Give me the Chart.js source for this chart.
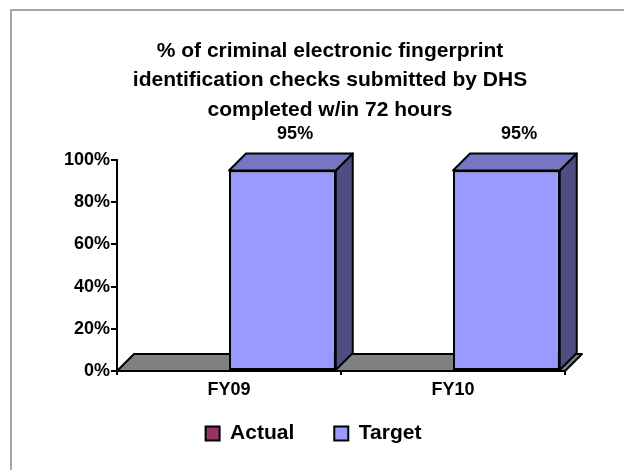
<!DOCTYPE html>
<html>
<head>
<meta charset="utf-8">
<script src="https://cdn.jsdelivr.net/npm/chart.js@4.4.1/dist/chart.umd.min.js"></script>
<style>
  html, body { margin: 0; padding: 0; background: #ffffff; }
  canvas { display: block; }
</style>
</head>
<body>
<canvas id="chart" width="624" height="470"></canvas>
<script>
// Chart data
const categories = ['FY09', 'FY10'];
const actualValues = [null, null];
const targetValues = [95, 95];
const yTickValues = [0, 20, 40, 60, 80, 100];
const titleLines = [
  '% of criminal electronic fingerprint',
  'identification checks submitted by DHS',
  'completed w/in 72 hours'
];

const FONT = '"Liberation Sans", Arial, Helvetica, sans-serif';
Chart.defaults.font.family = FONT;
Chart.defaults.color = '#000000';

// Depth of the pseudo-3D extrusion, in pixels
const DEPTH = 17;

// Grey frame along the top and left of the canvas
const framePlugin = {
  id: 'frame',
  beforeDraw(chart) {
    const ctx = chart.ctx;
    ctx.save();
    ctx.fillStyle = '#ffffff';
    ctx.fillRect(0, 0, chart.width, chart.height);
    ctx.fillStyle = '#a6a6a6';
    ctx.fillRect(10, 9, chart.width - 10, 2);
    ctx.fillRect(10, 9, 2, chart.height - 9);
    ctx.restore();
  }
};

function fillPoly(ctx, pts, fill) {
  ctx.beginPath();
  ctx.moveTo(pts[0][0], pts[0][1]);
  for (let k = 1; k < pts.length; k++) ctx.lineTo(pts[k][0], pts[k][1]);
  ctx.closePath();
  ctx.fillStyle = fill;
  ctx.fill();
  ctx.stroke();
}

// Grey floor under the columns
const floorPlugin = {
  id: 'floor',
  beforeDatasetsDraw(chart) {
    const { ctx, chartArea: a, scales: { y } } = chart;
    const b = y.getPixelForValue(0);
    ctx.save();
    ctx.lineWidth = 2;
    ctx.strokeStyle = '#000000';
    ctx.lineJoin = 'round';
    fillPoly(ctx, [[a.left, b], [a.right, b], [a.right + DEPTH, b - DEPTH], [a.left + DEPTH, b - DEPTH]], '#808080');
    ctx.restore();
  }
};

// Side and top faces of each column, plus the value label above it
const columns3dPlugin = {
  id: 'columns3d',
  afterDatasetsDraw(chart, args, opts) {
    const ctx = chart.ctx;
    chart.data.datasets.forEach((ds, i) => {
      const meta = chart.getDatasetMeta(i);
      if (meta.hidden) return;
      const shade = opts.shades[i];
      meta.data.forEach((bar, j) => {
        const v = ds.data[j];
        if (v === null || v === undefined || v === 0) return;
        const { x, y, base, width } = bar.getProps(['x', 'y', 'base', 'width'], true);
        const l = x - width / 2;
        const r = x + width / 2;
        const d = DEPTH;
        ctx.save();
        ctx.lineWidth = 2;
        ctx.strokeStyle = '#000000';
        ctx.lineJoin = 'round';
        fillPoly(ctx, [[r, y], [r + d, y - d], [r + d, base - d], [r, base]], shade.side);
        fillPoly(ctx, [[l, y], [l + d, y - d], [r + d, y - d], [r, y]], shade.top);
        ctx.fillStyle = '#000000';
        ctx.font = 'bold 18px ' + FONT;
        ctx.textAlign = 'center';
        ctx.textBaseline = 'middle';
        ctx.fillText(v + '%', x + d * 0.75, y - d - 19.5);
        ctx.restore();
      });
    });
  }
};

// Nudges the title and legend boxes after layout
const boxOffsetPlugin = {
  id: 'boxOffset',
  afterLayout(chart, args, opts) {
    const t = chart.titleBlock;
    if (t) { t.left += opts.titleDx; t.right += opts.titleDx; }
    const lg = chart.legend;
    if (lg) {
      lg.left += opts.legendDx; lg.right += opts.legendDx;
      lg.top += opts.legendDy; lg.bottom += opts.legendDy;
    }
  }
};

new Chart(document.getElementById('chart'), {
  type: 'bar',
  data: {
    labels: categories,
    datasets: [
      {
        label: 'Actual',
        data: actualValues,
        backgroundColor: '#993366',
        borderColor: '#000000',
        borderWidth: 2,
        borderSkipped: false
      },
      {
        label: 'Target',
        data: targetValues,
        backgroundColor: '#9999ff',
        borderColor: '#000000',
        borderWidth: 2,
        borderSkipped: false
      }
    ]
  },
  options: {
    responsive: false,
    animation: false,
    devicePixelRatio: 1,
    datasets: {
      bar: { categoryPercentage: 0.953, barPercentage: 1 }
    },
    layout: { padding: { left: 10, right: 59, top: 36, bottom: 0 } },
    plugins: {
      title: {
        display: true,
        text: titleLines,
        color: '#000000',
        font: { size: 21, weight: 'bold', lineHeight: '29.5px' },
        padding: { top: 0, bottom: 35.5 }
      },
      legend: {
        position: 'bottom',
        labels: {
          color: '#000000',
          font: { size: 21, weight: 'bold' },
          boxWidth: 14,
          boxHeight: 14,
          padding: 40
        }
      },
      tooltip: { enabled: false },
      columns3d: {
        shades: [
          { top: '#7a2950', side: '#4d1a33' },
          { top: '#7676c4', side: '#4e4e80' }
        ]
      },
      boxOffset: { titleDx: 42.5, legendDx: 26, legendDy: -16 }
    },
    scales: {
      x: {
        grid: { offset: true, drawOnChartArea: false, tickLength: 4, color: '#000000', lineWidth: 2 },
        border: { color: '#000000', width: 2 },
        ticks: { color: '#000000', font: { size: 18, weight: 'bold' }, padding: 4 },
        afterFit(scale) { scale.height = 28; }
      },
      y: {
        min: 0,
        max: 100,
        afterBuildTicks(scale) { scale.ticks = yTickValues.map(v => ({ value: v })); },
        grid: { drawOnChartArea: false, tickLength: 6, color: '#000000', lineWidth: 2 },
        border: { color: '#000000', width: 2 },
        ticks: {
          color: '#000000',
          font: { size: 18, weight: 'bold' },
          padding: 1,
          callback: v => v + '%'
        },
        afterFit(scale) { scale.width = 107; }
      }
    }
  },
  plugins: [framePlugin, floorPlugin, columns3dPlugin, boxOffsetPlugin]
});
</script>
</body>
</html>
